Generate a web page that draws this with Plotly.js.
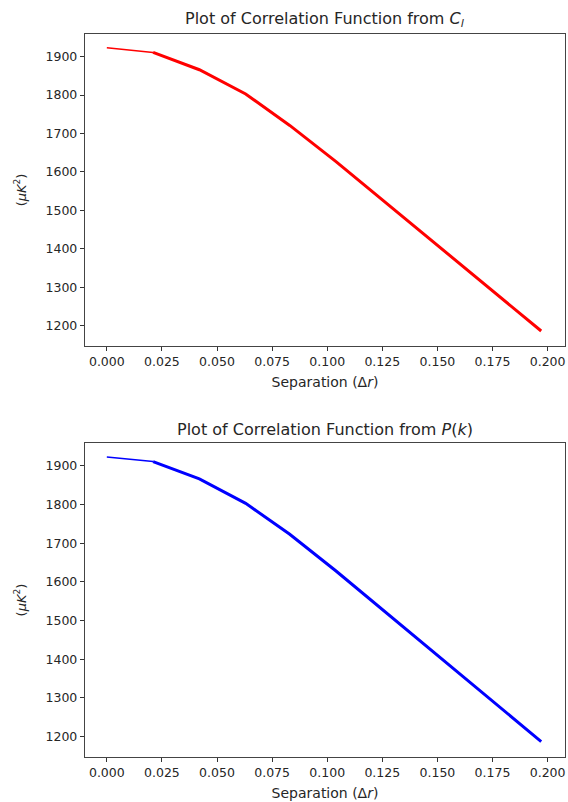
<!DOCTYPE html>
<html>
<head>
<meta charset="utf-8">
<script src="https://cdn.plot.ly/plotly-3.0.1.min.js"></script>
<style>html,body{margin:0;padding:0;background:#fff;}#chart{width:568px;height:802px;}</style>
</head>
<body>
<div id="chart"></div>
<script>
// Separation values (Δr)
const separation = [0, 0.021, 0.042, 0.063, 0.083, 0.104, 0.125, 0.146, 0.167, 0.188, 0.1971];
// Correlation from C_l (μK^2)
const corrFromCl = [1923, 1911, 1866, 1803, 1721, 1627, 1527, 1427, 1327, 1229, 1186];
// Correlation from P(k) (μK^2)
const corrFromPk = [1923, 1911, 1866, 1803, 1723, 1628, 1528, 1428, 1328, 1230, 1187];

const xTicks = [0, 0.025, 0.05, 0.075, 0.1, 0.125, 0.15, 0.175, 0.2];
const yTicks = [1200, 1300, 1400, 1500, 1600, 1700, 1800, 1900];

const FONT = 'DejaVu Sans, sans-serif';
const TXT = '#262626';

function seg(x, y, color, xa, ya) {
  return [
    {x: x.slice(0, 2), y: y.slice(0, 2), xaxis: xa, yaxis: ya, mode: 'lines', line: {color: color, width: 1.5}, hoverinfo: 'skip'},
    {x: x.slice(1), y: y.slice(1), xaxis: xa, yaxis: ya, mode: 'lines', line: {color: color, width: 3}, hoverinfo: 'skip'}
  ];
}

const data = [].concat(
  seg(separation, corrFromCl, '#ff0000', 'x', 'y'),
  seg(separation, corrFromPk, '#0000ff', 'x2', 'y2')
);

function xaxis(domainY, anchor) {
  return {
    anchor: anchor, range: [-0.0099, 0.2079], tickvals: xTicks, tickformat: '.3f',
    ticks: 'outside', ticklen: 4, tickwidth: 1, tickcolor: '#333',
    showline: true, mirror: true, linecolor: '#444', linewidth: 1.2,
    showgrid: false, zeroline: false,
    tickfont: {family: FONT, size: 12.5, color: TXT},
    title: {text: 'Separation (Δ<i>r</i>)', font: {family: FONT, size: 14, color: TXT}, standoff: 9}
  };
}
function yaxis(domain, anchor) {
  return {
    anchor: anchor, domain: domain, range: [1147, 1959], tickvals: yTicks,
    ticks: 'outside', ticklen: 4, tickwidth: 1, tickcolor: '#333',
    showline: true, mirror: true, linecolor: '#444', linewidth: 1.2,
    showgrid: false, zeroline: false,
    tickfont: {family: FONT, size: 12.5, color: TXT},
    title: {text: '(<i>μK</i><sup>2</sup>)', font: {family: FONT, size: 13, color: TXT}, standoff: 16}
  };
}

const topDomain = [0.5685, 1];
const botDomain = [0, 0.4343];

const layout = {
  width: 568, height: 802,
  margin: {l: 85, r: 3, t: 34, b: 45},
  paper_bgcolor: '#fff', plot_bgcolor: '#fff',
  showlegend: false,
  xaxis: xaxis(topDomain, 'y'),
  yaxis: yaxis(topDomain, 'x'),
  xaxis2: xaxis(botDomain, 'y2'),
  yaxis2: yaxis(botDomain, 'x2'),
  annotations: [
    {text: 'Plot of Correlation Function from <i>C<sub>l</sub></i>', xref: 'paper', yref: 'paper', x: 0.5, y: topDomain[1], xanchor: 'center', yanchor: 'bottom', yshift: 2, showarrow: false, font: {family: FONT, size: 16, color: TXT}},
    {text: 'Plot of Correlation Function from <i>P</i>(<i>k</i>)', xref: 'paper', yref: 'paper', x: 0.5, y: botDomain[1], xanchor: 'center', yanchor: 'bottom', yshift: 2, showarrow: false, font: {family: FONT, size: 16, color: TXT}}
  ]
};

Plotly.newPlot('chart', data, layout, {staticPlot: true, displayModeBar: false});
</script>
</body>
</html>
